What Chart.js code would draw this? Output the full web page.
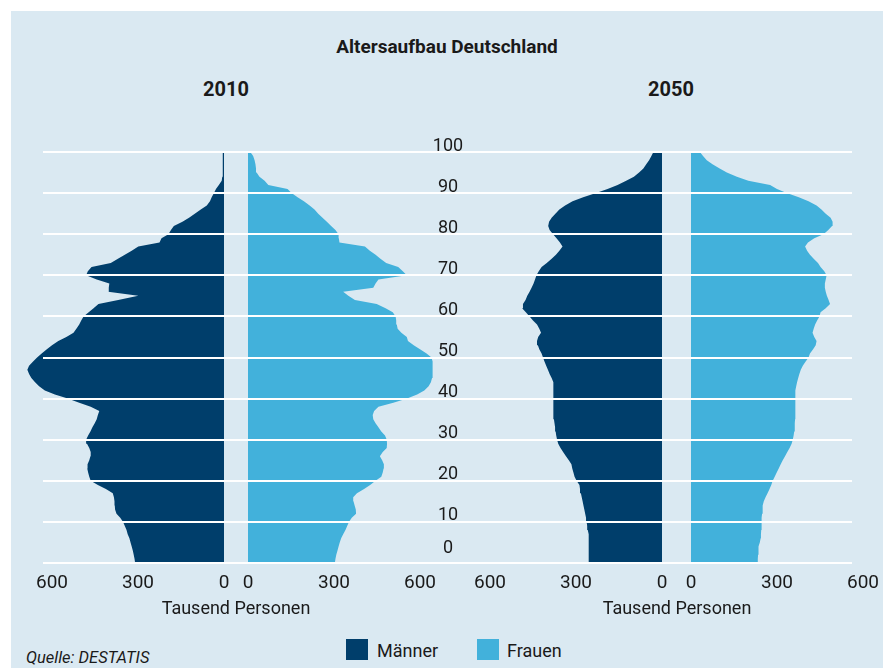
<!DOCTYPE html>
<html>
<head>
<meta charset="utf-8">
<script src="https://cdn.jsdelivr.net/npm/chart.js@4.4.1/dist/chart.umd.min.js"></script>
<style>
  html, body { margin: 0; padding: 0; background: #ffffff; }
  body { width: 883px; height: 671px; position: relative; overflow: hidden;
         font-family: 'Roboto', 'Liberation Sans', sans-serif; color: #1a1a1a; }
  #panel { position: absolute; left: 11px; top: 11px; width: 872px; height: 657px; background: #dae9f2; }
  canvas { position: absolute; }
  .t { position: absolute; white-space: nowrap; transform: translate(-50%, -50%); }
  .l { position: absolute; white-space: nowrap; transform: translateY(-50%); }
  .b { font-weight: bold; }
  .sw { position: absolute; width: 22px; height: 21px; }
</style>
</head>
<body>
<div id="panel"></div>
<div class="t b" style="left:447px;top:46px;font-size:19px;">Altersaufbau Deutschland</div>
<div class="t b" style="left:226px;top:89px;font-size:20px;">2010</div>
<div class="t b" style="left:671px;top:89px;font-size:20px;">2050</div>
<canvas id="m2010"></canvas>
<canvas id="w2010"></canvas>
<canvas id="m2050"></canvas>
<canvas id="w2050"></canvas>
<canvas id="grid" width="809" height="475" style="left:43px;top:120px;"></canvas>
<div class="t" style="left:236px;top:607px;font-size:18px;">Tausend Personen</div>
<div class="t" style="left:677px;top:607px;font-size:18px;">Tausend Personen</div>
<div class="l" style="left:26px;top:657px;font-size:16.5px;font-style:italic;">Quelle: DESTATIS</div>
<div class="sw" style="left:346px;top:639px;background:#003e6b;"></div>
<div class="l" style="left:377px;top:650px;font-size:18px;">Männer</div>
<div class="sw" style="left:477px;top:639px;background:#42b1db;"></div>
<div class="l" style="left:507px;top:650px;font-size:18px;">Frauen</div>
<script>
// Population by single year of age (0..100), thousand persons
const men2010 = [
  310,312,315,318,322,326,330,336,340,346,
  352,362,375,380,381,382,384,388,412,440,
  465,470,474,477,476,470,466,465,470,478,
  481,474,466,459,451,444,440,435,465,505,
  545,590,625,645,659,672,680,686,680,666,
  652,636,618,600,578,550,525,515,505,498,
  490,472,455,438,369,299,404,402,400,444,
  481,475,462,395,370,346,322,299,225,218,
  194,185,175,145,122,102,81,60,49,43,
  35,28,18,8,6,5,5,4,4,4,
  4];
const women2010 = [
  303,305,308,312,316,320,325,332,340,346,
  352,362,377,376,372,368,367,380,405,426,
  445,465,470,473,474,468,460,470,484,485,
  484,478,465,455,445,437,435,440,455,507,
  555,590,615,630,638,642,644,644,644,644,
  640,623,600,578,558,554,535,522,519,517,
  515,505,480,449,373,350,332,437,445,455,
  554,540,524,482,462,445,425,408,319,317,
  316,305,290,275,260,245,232,215,195,173,
  152,138,71,58,40,30,28,26,23,18,
  8];
const men2050 = [
  257,257,256,255,255,255,255,257,259,261,
  263,265,268,271,274,277,280,283,286,288,
  298,305,309,313,316,325,335,345,354,362,
  366,369,371,373,375,377,378,379,379,379,
  379,379,379,379,380,385,392,398,404,410,
  415,420,428,433,436,432,422,428,436,450,
  462,475,488,485,476,470,462,455,448,443,
  438,430,420,402,385,370,358,347,356,368,
  380,392,397,394,385,372,358,338,312,275,
  230,190,155,125,98,80,65,55,45,37,
  30];
const women2050 = [
  233,233,234,235,236,240,243,244,245,246,
  246,247,248,249,251,254,260,267,274,280,
  285,292,299,306,313,320,328,336,344,351,
  355,358,360,362,362,363,363,363,363,364,
  364,365,366,367,370,374,378,383,390,400,
  410,415,426,435,438,430,424,428,433,440,
  448,452,470,485,480,474,470,467,467,470,
  473,465,452,443,428,415,405,398,408,430,
  462,479,492,494,487,470,455,438,410,376,
  334,300,276,200,160,125,100,75,55,42,
  31];
const xTicks = [0, 300, 600];
const ageTicks = [0, 10, 20, 30, 40, 50, 60, 70, 80, 90, 100];
const ageTickLabels = ['0','10','20','30','40','50','60','70','80','90','100'];

const MEN = '#003e6b', WOMEN = '#42b1db';
const FONT = "Roboto, 'Liberation Sans', sans-serif";

// layout geometry (pixels on the page)
const PX_PER_300 = 86, X_MAX = 700, AREA_TOP = 152, AREA_BOTTOM = 563, CANVAS_TOP = 140, PAD = 30;
const AREA_W = X_MAX / 300 * PX_PER_300;

function pyramid(id, values, color, reverse, zeroX) {
  const el = document.getElementById(id);
  const areaLeft = reverse ? zeroX - AREA_W : zeroX;
  const left = Math.floor(areaLeft - PAD);
  const padLeft = areaLeft - left;
  const width = Math.ceil(padLeft + AREA_W + PAD);
  const padRight = width - padLeft - AREA_W;
  el.width = width;
  el.height = AREA_BOTTOM - CANVAS_TOP + 40;
  el.style.left = left + 'px';
  el.style.top = CANVAS_TOP + 'px';
  new Chart(el, {
    type: 'line',
    data: {
      datasets: [{
        data: values.map((v, age) => ({ x: v, y: age })),
        backgroundColor: color, borderColor: color, borderWidth: 0,
        fill: 'origin', pointRadius: 0, tension: 0
      }]
    },
    options: {
      indexAxis: 'y', animation: false, responsive: false, maintainAspectRatio: false,
      layout: { padding: { left: padLeft, right: padRight, top: AREA_TOP - CANVAS_TOP, bottom: 0 } },
      plugins: { legend: { display: false }, tooltip: { enabled: false } },
      scales: {
        x: {
          type: 'linear', min: 0, max: X_MAX, reverse: reverse,
          afterBuildTicks: s => { s.ticks = xTicks.map(v => ({ value: v })); },
          afterFit: s => { s.height = 40; },
          ticks: { color: '#1a1a1a', padding: 9, maxRotation: 0, font: { family: FONT, size: 19 } },
          grid: { display: false, drawTicks: false },
          border: { display: false }
        },
        y: { type: 'linear', min: 0, max: 100, display: false }
      }
    }
  });
}
pyramid('m2010', men2010, MEN, true, 224);
pyramid('w2010', women2010, WOMEN, false, 248);
pyramid('m2050', men2050, MEN, true, 662);
pyramid('w2050', women2050, WOMEN, false, 691);

const ageLabelPlugin = {
  id: 'ageLabels',
  afterDraw(chart) {
    const s = chart.scales.y, ctx = chart.ctx;
    ctx.save();
    ctx.font = '18px ' + FONT;
    ctx.fillStyle = '#1a1a1a';
    ctx.textAlign = 'center';
    ctx.textBaseline = 'alphabetic';
    s.ticks.forEach((t, i) => {
      const y = s.getPixelForValue(t.value);
      ctx.fillText(ageTickLabels[i], 405, y - (t.value === 0 ? 10 : 1.5));
    });
    ctx.restore();
  }
};
new Chart(document.getElementById('grid'), {
  type: 'line',
  data: { datasets: [] },
  options: {
    animation: false, responsive: false, maintainAspectRatio: false,
    layout: { padding: { left: 0, right: 0, top: 32, bottom: 32 } },
    plugins: { legend: { display: false }, tooltip: { enabled: false } },
    scales: {
      x: { type: 'linear', min: 0, max: 1, display: false },
      y: {
        type: 'linear', min: 0, max: 100,
        afterBuildTicks: s => { s.ticks = ageTicks.map(v => ({ value: v })); },
        ticks: { display: false },
        grid: { color: '#ffffff', lineWidth: 2, drawTicks: false },
        border: { display: false }
      }
    }
  },
  plugins: [ageLabelPlugin]
});
</script>
</body>
</html>
